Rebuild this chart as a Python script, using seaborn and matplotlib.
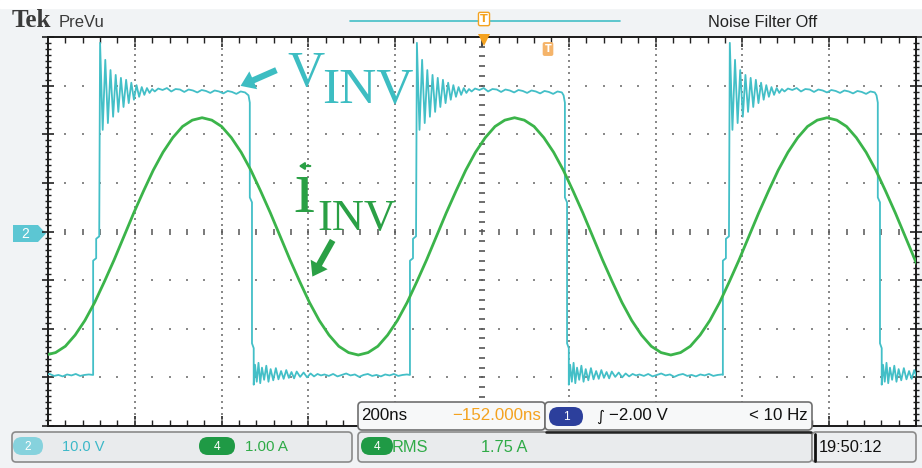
import numpy as np
import pandas as pd
import matplotlib
matplotlib.use("Agg")
import matplotlib.pyplot as plt
import seaborn as sns
from matplotlib import font_manager
from matplotlib.patches import FancyBboxPatch, Polygon, FancyArrowPatch
from matplotlib.ticker import MultipleLocator

# ---------------- data ----------------
NS_PER_DIV = 200          # horizontal scale
V_PER_DIV = 10.0          # channel 2 (V_INV)
A_PER_DIV = 1.0           # channel 4 (i_INV)

# V_INV edges (ns on the 2000 ns screen)
rise_times = [104, 834, 1555]
fall_times = [465, 1191, 1912]

rise_edge_dt = [0, 0, 7, 7, 14]
rise_edge_v = [-29.5, -6.0, -5.5, -1.5, -1.0]
hi_ring_dt = [16, 22, 28, 34, 40, 46, 52, 58, 64, 70, 76, 82, 88, 94, 100,
              106, 112, 118, 124, 130, 136, 142]
hi_ring_v = [38.8, 20.9, 35.3, 22.3, 33.2, 23.6, 32.2, 24.6, 31.6, 25.6, 31.2,
             26.4, 30.6, 27.1, 30.1, 27.7, 29.7, 28.1, 29.5, 28.5, 29.3, 28.8]
hi_flat_v = [29.4, 29.1, 29.5, 28.8, 29.3, 29.2, 28.7, 29.2, 29.0, 28.6, 29.1,
             28.9, 28.5, 29.0, 28.8, 28.4, 28.9, 28.7, 28.3, 28.8, 28.6]
fall_edge_dt = [-3, 0, 0, 5, 5, 9, 9]
fall_edge_v = [28.0, 26.5, 7.0, 6.0, -23.0, -24.0, -31.5]
lo_ring_dt = [12, 16, 20, 24, 28, 33, 38, 43, 48, 54, 60, 66, 72, 78, 84, 90,
              96, 102, 108, 116, 124, 132, 140, 148, 156, 164]
lo_ring_v = [-27.4, -30.9, -27.0, -31.2, -28.0, -30.5, -27.6, -30.9, -28.3, -30.6,
             -28.1, -30.4, -28.7, -30.3, -28.5, -30.1, -28.9, -30.2, -28.8, -29.9,
             -29.0, -30.0, -29.2, -29.8, -29.3, -29.6]
lo_flat_v = [-29.4, -29.7, -29.3, -29.8, -29.5, -29.2, -29.6, -29.4, -29.9, -29.5,
             -29.3, -29.7, -29.5, -29.8, -29.4, -29.6, -29.3, -29.7, -29.5, -29.4]
FLAT_STEP = 10

# i_INV samples (A), first sample at -5 ns, one every 22.5 ns
I_T0, I_STEP = -5.0, 22.5
i_inv = [-2.54, -2.49, -2.36, -2.13, -1.83, -1.46, -1.03, -0.58,
         -0.10, 0.38, 0.83, 1.26, 1.63, 1.93, 2.16, 2.29, 2.34, 2.29, 2.16, 1.93,
         1.63, 1.26, 0.83, 0.38, -0.10, -0.58, -1.03, -1.46, -1.83, -2.13, -2.36,
         -2.49, -2.54, -2.49, -2.36, -2.13, -1.83, -1.46, -1.03, -0.58,
         -0.10, 0.38, 0.83, 1.26, 1.63, 1.93, 2.16, 2.29, 2.34, 2.29, 2.16, 1.93,
         1.63, 1.26, 0.83, 0.38, -0.10, -0.58, -1.03, -1.46, -1.83, -2.13, -2.36,
         -2.49, -2.54, -2.49, -2.36, -2.13, -1.83, -1.46, -1.03, -0.58,
         -0.10, 0.38, 0.83, 1.26, 1.63, 1.93, 2.16, 2.29, 2.34, 2.29, 2.16, 1.93,
         1.63, 1.26, 0.83, 0.38, -0.10, -0.58, -1.03]

# ---------------- build series ----------------
tv, vv = [], []
n_lo = len(lo_flat_v)
for k, val in enumerate(lo_flat_v):
    tv.append(rise_times[0] - 10 - FLAT_STEP * (n_lo - 1 - k)); vv.append(val)
for tr, tf in zip(rise_times, fall_times):
    for dt, val in zip(rise_edge_dt, rise_edge_v):
        tv.append(tr + dt); vv.append(val)
    for dt, val in zip(hi_ring_dt, hi_ring_v):
        tv.append(tr + dt); vv.append(val)
    for k, val in enumerate(hi_flat_v):
        tv.append(tr + 150 + FLAT_STEP * k); vv.append(val)
    for dt, val in zip(fall_edge_dt, fall_edge_v):
        tv.append(tf + dt); vv.append(val)
    for dt, val in zip(lo_ring_dt, lo_ring_v):
        tv.append(tf + dt); vv.append(val)
    for k, val in enumerate(lo_flat_v):
        tv.append(tf + 172 + FLAT_STEP * k); vv.append(val)

df_v = pd.DataFrame({"t": tv, "div": np.array(vv) / V_PER_DIV})
df_i = pd.DataFrame({"t": I_T0 + I_STEP * np.arange(len(i_inv)),
                     "div": np.array(i_inv) / A_PER_DIV})

# ---------------- fonts ----------------
names = {f.name for f in font_manager.fontManager.ttflist}
if "Liberation Sans Narrow" in names:
    NARROW, NSCALE = "Liberation Sans Narrow", 1.0
else:
    NARROW, NSCALE = "Liberation Sans", 0.84
SERIF = "Liberation Serif"

# ---------------- colours ----------------
TEAL = "#43bfc7"
TEAL_LABEL = "#3dbdc2"
GREEN = "#3bb44a"
GREEN_LABEL = "#2aa045"
ORANGE = "#f4a21f"
BADGE_GREEN = "#1f9a45"
BADGE_BLUE = "#2c3f9c"
BADGE_TEAL = "#86d2dd"
TEXT_TEAL = "#3cb8c8"
TEXT_GREEN = "#2fab47"

sns.set_style("white")

W, H = 922, 468
fig = plt.figure(figsize=(W / 100, H / 100), dpi=100, facecolor="#f1f3f5")
bg = fig.add_axes([0, 0, 1, 1]); bg.set_xlim(0, W); bg.set_ylim(H, 0); bg.axis("off")
PL, PR, PT, PB = 48, 916, 37, 426
ax = fig.add_axes([PL / W, 1 - PB / H, (PR - PL) / W, (PB - PT) / H])
fg = fig.add_axes([0, 0, 1, 1]); fg.set_xlim(0, W); fg.set_ylim(H, 0); fg.axis("off")

# ---------------- main graticule ----------------
ax.set_facecolor("white")
ax.set_xlim(0, 10 * NS_PER_DIV)
ax.set_ylim(-4, 4)

xs_dots = np.arange(0, 10 * NS_PER_DIV + 1, NS_PER_DIV / 5)
for yv in (-3, -2, -1, 1, 2, 3):
    ax.plot(xs_dots, np.full(len(xs_dots), float(yv)), ls="none", marker="s",
            ms=1.7, mew=0, color="#8a8a8a", zorder=1)
ys_dots = np.arange(-4, 4.001, 0.125)
for xv in range(1, 10):
    if xv == 5:
        continue
    ax.plot(np.full(len(ys_dots), xv * NS_PER_DIV), ys_dots, ls="none", marker="s",
            ms=1.5, mew=0, color="#8a8a8a", zorder=1)
yc = np.arange(-4, 4.001, 0.2)
ax.plot(np.full(len(yc), 5 * NS_PER_DIV), yc, ls="none", marker="_", ms=5,
        mew=1.2, color="#555555", zorder=1)
ax.plot(xs_dots, np.zeros(len(xs_dots)), ls="none", marker="|", ms=4, mew=1.1,
        color="#555555", zorder=1)

sns.lineplot(data=df_v, x="t", y="div", ax=ax, color=TEAL, lw=1.3,
             estimator=None, sort=False, legend=False, zorder=3)
sns.lineplot(data=df_i, x="t", y="div", ax=ax, color=GREEN, lw=2.0,
             estimator=None, sort=False, legend=False, zorder=4)
ax.set_xlabel(""); ax.set_ylabel("")

for s in ax.spines.values():
    s.set_color("#1a1a1a"); s.set_linewidth(1.4)
ax.xaxis.set_major_locator(MultipleLocator(NS_PER_DIV))
ax.xaxis.set_minor_locator(MultipleLocator(NS_PER_DIV / 5))
ax.yaxis.set_major_locator(MultipleLocator(1))
ax.yaxis.set_minor_locator(MultipleLocator(0.125))
ax.tick_params(axis="x", which="major", direction="in", length=7, width=1.2,
               top=True, bottom=True, labelbottom=False, color="#222222")
ax.tick_params(axis="x", which="minor", direction="in", length=4, width=1.0,
               top=True, bottom=True, color="#222222")
ax.tick_params(axis="y", which="major", direction="inout", length=9, width=1.2,
               left=True, right=True, labelleft=False, color="#222222")
ax.tick_params(axis="y", which="minor", direction="inout", length=5, width=1.0,
               left=True, right=True, color="#222222")

# ---------------- top bar ----------------
bg.add_patch(plt.Rectangle((0, 0), W, 8, color="white", zorder=0))
bg.text(12, 27, "Tek", family=SERIF, fontweight="bold", fontsize=18,
        color="#3a3a3a", va="baseline", ha="left")
bg.text(59, 27, "PreVu", family="Liberation Sans", fontsize=12, color="#3a3a3a",
        va="baseline", ha="left")
bg.plot([350, 620], [21, 21], color=TEAL, lw=1.2)
bg.text(484, 19, "T", color=ORANGE, fontsize=8, fontweight="bold", ha="center",
        va="center", bbox=dict(boxstyle="round,pad=0.15", fc="white", ec=ORANGE, lw=1.0))
fg.plot([484], [40], marker="v", ms=8, color=ORANGE, mew=0)
fg.text(548, 49, "T", color="white", fontsize=7, fontweight="bold", ha="center",
        va="center", bbox=dict(boxstyle="round,pad=0.2", fc="#f5b46a", ec="none"))
bg.text(708, 27, "Noise Filter Off", family=NARROW, fontsize=14 * NSCALE,
        color="#222222", va="baseline", ha="left")

# channel-2 ground marker
bg.add_patch(Polygon([(13, 225), (38, 225), (46, 233.5), (38, 242), (13, 242)],
                     closed=True, fc="#5cc6d3", ec="none"))
bg.text(25, 234, "2", color="white", fontsize=10, ha="center", va="center",
        family="Liberation Sans")

# ---------------- annotations ----------------
fg.text(287, 86, "V", family=SERIF, fontsize=37, color=TEAL_LABEL, va="baseline", ha="left")
fg.text(322, 103, "INV", family=SERIF, fontsize=37, color=TEAL_LABEL, va="baseline", ha="left")
fg.add_patch(FancyArrowPatch((279, 69), (238, 87),
                             arrowstyle="simple,head_length=1.0,head_width=1.4,tail_width=0.45",
                             mutation_scale=10, color=TEAL_LABEL, lw=0))
fg.text(293, 212, "\u0131", family=SERIF, fontsize=55, color=GREEN_LABEL,
        va="baseline", ha="left")
fg.text(317, 230, "INV", family=SERIF, fontsize=32, color=GREEN_LABEL,
        va="baseline", ha="left")
fg.add_patch(FancyArrowPatch((313, 166), (296, 166), arrowstyle="-|>,head_length=3,head_width=2",
                             mutation_scale=1, color=GREEN_LABEL, lw=1.6))
fg.add_patch(FancyArrowPatch((334, 238), (311, 279),
                             arrowstyle="simple,head_length=1.0,head_width=1.4,tail_width=0.45",
                             mutation_scale=10, color=GREEN_LABEL, lw=0))

# ---------------- bottom status boxes ----------------
def box(x, y, w, h, fc, ec="#6f6f6f", lw=1.2, r=4):
    fg.add_patch(FancyBboxPatch((x, y), w, h, boxstyle=f"round,pad=0,rounding_size={r}",
                                fc=fc, ec=ec, lw=lw, zorder=2))

def badge(x, y, w, h, fc, label):
    fg.add_patch(FancyBboxPatch((x, y), w, h, boxstyle=f"round,pad=0,rounding_size={h/2}",
                                fc=fc, ec="none", zorder=3))
    fg.text(x + w / 2, y + h / 2 + 0.5, label, color="white", fontsize=9 * NSCALE + 1,
            family=NARROW, ha="center", va="center", zorder=4)

def ntext(x, y, s, size, color, ha="left"):
    fg.text(x, y, s, family=NARROW, fontsize=size * NSCALE, color=color, ha=ha,
            va="center", zorder=5)

# row 1
box(358, 402, 187, 28, "#f7f8f9")
ntext(361, 416, "200ns", 14.5, "#111111")
ntext(541, 416, "\u2212152.000ns", 14.5, ORANGE, ha="right")
box(545, 402, 267, 28, "#f7f8f9")
badge(549, 407, 34, 19, BADGE_BLUE, "1")
fg.text(600, 416, "\u222b", family="DejaVu Sans", fontsize=11, color="#111111",
        ha="center", va="center", zorder=5)
ntext(609, 416, "\u22122.00 V", 14.5, "#111111")
ntext(808, 416, "< 10 Hz", 14.5, "#111111", ha="right")

# row 2
box(12, 432, 340, 30, "#e9ebed", ec="#8a8a8a")
badge(13, 437, 30, 18, BADGE_TEAL, "2")
ntext(62, 447, "10.0 V", 12.5, TEXT_TEAL)
badge(199, 437, 36, 18, BADGE_GREEN, "4")
ntext(245, 447, "1.00 A", 13, TEXT_GREEN)
box(358, 432, 454, 30, "#e9ebed", ec="#8a8a8a")
fg.plot([546, 811], [431.5, 431.5], color="#222222", lw=1.8, zorder=3)
badge(361, 437, 32, 18, BADGE_GREEN, "4")
ntext(392, 447, "RMS", 14, TEXT_GREEN)
ntext(481, 447, "1.75 A", 14, TEXT_GREEN)
box(812, 432, 104, 30, "#eceef0", ec="#8a8a8a")
fg.plot([815, 815], [434, 461], color="#111111", lw=2.0, zorder=4)
ntext(819, 447, "19:50:12", 14, "#111111")

fig.savefig("out.png", dpi=100, facecolor=fig.get_facecolor())
